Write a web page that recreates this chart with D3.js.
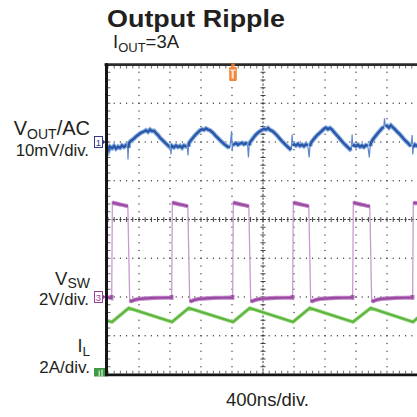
<!DOCTYPE html>
<html><head><meta charset="utf-8">
<script src="https://cdn.jsdelivr.net/npm/d3@7"></script>
<style>html,body{margin:0;padding:0;background:#fff;} svg{display:block;}</style>
</head><body>
<svg id="c" width="417" height="417"></svg>
<script>
// ---------------- DATA ----------------
const titleText = "Output Ripple";
const subtitleParts = ["I", "OUT", "=3A"];
const voutLabelParts = ["V", "OUT", "/AC"];
const voutScaleLabel = "10mV/div.";
const vswLabelParts = ["V", "SW"];
const vswScaleLabel = "2V/div.";
const ilLabelParts = ["I", "L"];
const ilScaleLabel = "2A/div.";
const timebaseLabel = "400ns/div.";
const channelIds = ["1", "3", "4"];
const triggerTimeNs = 1613;

// Channel 1: V_OUT AC ripple [time ns, mV]
const voutTrace = [
 [0,-1.0],[13,-1.9],[26,-1.2],[52,-1.6],[78,-1.0],[103,-1.7],[129,-1.2],[155,-1.5],[180,-0.9],[206,-1.3],[232,-0.8],[245,-1.1],
 [252,-1.3],[258,-4.5],[265,-1.5],
 [271,-0.3],[290,0.2],[310,0.5],[335,0.9],[361,1.4],[387,1.8],[413,2.2],[438,2.5],
 [464,2.7],[490,3.0],[516,2.6],[542,3.2],[568,2.8],[593,2.9],
 [619,2.3],[645,1.8],[671,1.1],[696,0.6],[722,0.1],[748,-0.4],[774,-0.9],[795,-1.3],
 [806,-1.2],[813,-3.2],[820,-1.6],
 [826,-1.0],[851,-1.4],[877,-0.9],[903,-1.3],[929,-1.0],[955,-1.5],[980,-0.9],[1006,-1.1],[1022,-0.8],
 [1032,-3.5],[1039,-1.2],
 [1045,-0.3],[1065,0.3],[1084,0.8],[1110,1.4],[1135,2.0],[1161,2.5],[1187,3.0],
 [1212,3.3],[1238,3.1],[1264,3.5],[1290,3.2],[1316,3.0],
 [1342,2.6],[1367,2.1],[1393,1.5],[1419,1.0],[1445,0.5],[1470,0.0],[1496,-0.5],[1522,-0.9],[1548,-1.3],[1574,-1.2],
 [1595,2.8],[1603,-2.4],[1610,-0.7],
 [1625,-0.6],[1651,-0.3],[1677,-0.7],[1703,-0.4],[1729,-0.2],[1754,-0.6],[1780,-0.3],[1800,-0.5],
 [1812,-4.0],[1822,-0.9],
 [1832,-0.1],[1858,0.6],[1883,1.3],[1909,1.9],[1935,2.4],[1961,2.8],[1987,3.1],
 [2012,3.4],[2038,3.2],[2064,3.6],[2090,3.1],[2115,2.9],
 [2141,2.5],[2167,2.0],[2193,1.4],[2219,0.8],[2245,0.2],[2270,-0.3],[2296,-0.8],[2322,-1.3],[2348,-1.8],[2366,-1.5],
 [2376,1.9],[2384,-0.9],
 [2400,-0.6],[2425,-0.9],[2451,-0.5],[2477,-1.0],[2503,-0.7],[2528,-1.1],[2554,-0.6],[2578,-0.8],
 [2596,-4.0],[2606,-1.1],
 [2620,-0.2],[2645,0.5],[2670,1.1],[2700,1.8],[2735,2.4],[2761,2.9],
 [2787,3.4],[2812,3.7],[2838,3.3],[2864,3.6],[2890,3.2],
 [2915,2.6],[2941,2.0],[2967,1.4],[2993,0.8],[3019,0.2],[3044,-0.4],[3070,-0.9],[3096,-1.4],[3122,-1.9],[3140,-1.6],
 [3150,1.9],[3158,-1.1],
 [3173,-0.8],[3199,-1.1],[3225,-0.7],[3251,-1.2],[3277,-0.9],[3302,-1.3],[3328,-0.8],[3352,-1.0],
 [3372,-4.0],[3382,-1.1],
 [3395,-0.1],[3420,0.7],[3450,1.5],[3483,2.3],[3509,2.9],[3535,3.5],[3558,3.9],
 [3568,6.1],[3578,4.1],
 [3600,4.2],[3625,3.7],[3650,4.3],[3675,3.8],
 [3700,3.3],[3730,2.7],[3760,2.1],[3790,1.4],[3820,0.7],[3850,0.1],[3880,-0.5],[3908,-1.1],
 [3925,1.8],[3932,-3.2],[3942,-1.3],
 [3960,-0.7],[3986,-1.0],[4000,-0.8]
];

// Channel 3: V_SW switch node [time ns, V]
const vswTrace = [
 [0,-0.04],[20,-0.02],[44,-0.05],
 [48,0.1],[56,4.82],[72,4.86],[110,4.82],[150,4.78],[190,4.75],[230,4.71],[256,4.68],[280,-0.18],[300,-0.22],[340,-0.15],[400,-0.1],[500,-0.07],[600,-0.05],[700,-0.04],[800,-0.03],[820,-0.04],
 [822,0.1],[830,4.82],[846,4.86],[884,4.82],[924,4.78],[964,4.75],[1004,4.71],[1030,4.68],[1054,-0.18],[1074,-0.22],[1114,-0.15],[1174,-0.1],[1274,-0.07],[1374,-0.05],[1474,-0.04],[1574,-0.03],[1605,-0.04],
 [1609,0.1],[1617,4.82],[1633,4.86],[1671,4.82],[1711,4.78],[1751,4.75],[1791,4.71],[1817,4.68],[1841,-0.18],[1861,-0.22],[1901,-0.15],[1961,-0.1],[2061,-0.07],[2161,-0.05],[2261,-0.04],[2361,-0.03],[2379,-0.04],
 [2383,0.1],[2391,4.82],[2407,4.86],[2445,4.82],[2485,4.78],[2525,4.75],[2565,4.71],[2591,4.68],[2615,-0.18],[2635,-0.22],[2675,-0.15],[2735,-0.1],[2835,-0.07],[2935,-0.05],[3035,-0.04],[3135,-0.03],[3153,-0.04],
 [3157,0.1],[3165,4.82],[3181,4.86],[3219,4.82],[3259,4.78],[3299,4.75],[3339,4.71],[3378,4.68],[3402,-0.18],[3422,-0.22],[3462,-0.15],[3522,-0.1],[3622,-0.07],[3722,-0.05],[3822,-0.04],[3900,-0.03],[3927,-0.04],
 [3931,0.1],[3939,4.82],[3960,4.86],[4000,4.84]
];

// Channel 4: inductor current I_L [time ns, A]
const ilTrace = [
 [0,2.76],[52,2.71],[268,3.43],[826,2.71],[1042,3.43],[1613,2.71],[1829,3.43],[2387,2.71],[2603,3.43],[3161,2.71],[3390,3.43],[3935,2.71],[4000,2.94]
];

// ---------------- SCALES ----------------
const svg = d3.select("#c");
const FONT = "'Liberation Sans', Arial, Helvetica, sans-serif";
const TXT = "#231f20";
const x = d3.scaleLinear().domain([0, 4000]).range([108, 418]);
const xDiv = d3.scaleLinear().domain([0, 10]).range([108, 418]);
const yDiv = d3.scaleLinear().domain([-4, 4]).range([374.5, 64.5]);
const ch1Offset = 2, ch3Offset = -2, ch4Offset = -4;
const yVout = v => yDiv(ch1Offset + v / 10);
const yVsw = v => yDiv(ch3Offset + v / 2);
const yIl = v => yDiv(ch4Offset + v / 2);

// ---------------- GRID ----------------
const grid = svg.append("g");
const minorX = d3.range(0, 51).map(j => j * 0.2);
const minorY = d3.range(0, 41).map(j => -4 + j * 0.2);
[1,2,3,4,6,7,8,9].forEach(i => {
  minorY.forEach(v => grid.append("rect").attr("x", xDiv(i) - 0.6).attr("y", yDiv(v) - 0.6)
    .attr("width", 1.2).attr("height", 1.2).attr("fill", "#3a3a3a"));
});
[-3,-2,-1,1,2,3].forEach(k => {
  minorX.forEach(v => grid.append("rect").attr("x", xDiv(v) - 0.6).attr("y", yDiv(k) - 0.6)
    .attr("width", 1.2).attr("height", 1.2).attr("fill", "#3a3a3a"));
});
// center cross
grid.append("line").attr("x1", xDiv(5)).attr("x2", xDiv(5)).attr("y1", yDiv(4)).attr("y2", yDiv(-4))
  .attr("stroke", "#333").attr("stroke-width", 1).attr("stroke-dasharray", "2.2,1.6");
grid.append("line").attr("y1", yDiv(0)).attr("y2", yDiv(0)).attr("x1", xDiv(0)).attr("x2", xDiv(10))
  .attr("stroke", "#333").attr("stroke-width", 1).attr("stroke-dasharray", "2.2,1.6");
minorY.forEach(v => grid.append("line").attr("x1", xDiv(5) - 2.5).attr("x2", xDiv(5) + 2.5)
  .attr("y1", yDiv(v)).attr("y2", yDiv(v)).attr("stroke", "#333").attr("stroke-width", 0.9));
minorX.forEach(v => grid.append("line").attr("y1", yDiv(0) - 2.5).attr("y2", yDiv(0) + 2.5)
  .attr("x1", xDiv(v)).attr("x2", xDiv(v)).attr("stroke", "#333").attr("stroke-width", 0.9));
// border ticks
minorX.forEach(v => {
  grid.append("line").attr("x1", xDiv(v)).attr("x2", xDiv(v)).attr("y1", 66).attr("y2", 68.5)
    .attr("stroke", "#444").attr("stroke-width", 0.8);
  grid.append("line").attr("x1", xDiv(v)).attr("x2", xDiv(v)).attr("y1", 373.5).attr("y2", 370.8)
    .attr("stroke", "#444").attr("stroke-width", 0.8);
});
minorY.forEach(v => grid.append("line").attr("x1", 108).attr("x2", 110.5)
  .attr("y1", yDiv(v)).attr("y2", yDiv(v)).attr("stroke", "#444").attr("stroke-width", 0.8));

// ---------------- TRACES ----------------
svg.append("defs").append("clipPath").attr("id", "clip").append("rect")
  .attr("x", 108).attr("y", 64.5).attr("width", 310).attr("height", 310);
const tr = svg.append("g").attr("clip-path", "url(#clip)");

function segmentsOf(data, jump) {
  const segs = []; let cur = [data[0]];
  for (let i = 1; i < data.length; i++) {
    if (Math.abs(data[i][1] - data[i - 1][1]) > jump) { segs.push(cur); cur = [data[i]]; }
    else cur.push(data[i]);
  }
  segs.push(cur);
  return segs.filter(s => s.length > 1);
}

// I_L (green)
const lineIl = d3.line().x(d => x(d[0])).y(d => yIl(d[1]));
tr.append("path").attr("d", lineIl(ilTrace)).attr("fill", "none").attr("stroke", "#9ad67e").attr("stroke-width", 3.6);
tr.append("path").attr("d", lineIl(ilTrace)).attr("fill", "none").attr("stroke", "#5ab43e").attr("stroke-width", 2);

// V_SW (purple)
const lineSw = d3.line().x(d => x(d[0])).y(d => yVsw(d[1]));
tr.append("path").attr("d", lineSw(vswTrace)).attr("fill", "none").attr("stroke", "#c99ad0").attr("stroke-width", 1.3);
segmentsOf(vswTrace, 1).forEach(s => {
  tr.append("path").attr("d", lineSw(s)).attr("fill", "none").attr("stroke", "#c28ac8").attr("stroke-width", 4.2);
  tr.append("path").attr("d", lineSw(s)).attr("fill", "none").attr("stroke", "#9a4aa2").attr("stroke-width", 2.2);
});

// V_OUT (blue)
const lineVo = d3.line().x(d => x(d[0])).y(d => yVout(d[1]));
tr.append("path").attr("d", lineVo(voutTrace)).attr("fill", "none").attr("stroke", "#5f88cc").attr("stroke-width", 1.2);
segmentsOf(voutTrace, 1.5).forEach(s => {
  tr.append("path").attr("d", lineVo(s)).attr("fill", "none").attr("stroke", "#8fb0e0").attr("stroke-width", 4.6);
  tr.append("path").attr("d", lineVo(s)).attr("fill", "none").attr("stroke", "#2a58a8").attr("stroke-width", 2.4);
});

// ---------------- BORDER ----------------
svg.append("line").attr("x1", 104.5).attr("x2", 417).attr("y1", 64.7).attr("y2", 64.7).attr("stroke", "#2b2b2b").attr("stroke-width", 2.8);
svg.append("line").attr("x1", 104.5).attr("x2", 417).attr("y1", 374.8).attr("y2", 374.8).attr("stroke", "#151515").attr("stroke-width", 2.8);
svg.append("line").attr("x1", 106.5).attr("x2", 106.5).attr("y1", 63.3).attr("y2", 376.2).attr("stroke", "#151515").attr("stroke-width", 3);

// ---------------- MARKERS ----------------
function chMarker(yc, color, label) {
  const g = svg.append("g");
  g.append("path").attr("d", `M102,${yc - 3} L105.5,${yc} L102,${yc + 3} Z`).attr("fill", color);
  g.append("rect").attr("x", 94.5).attr("y", yc - 5.5).attr("width", 8).attr("height", 11)
    .attr("fill", "#fff").attr("stroke", color).attr("stroke-width", 1);
  g.append("text").attr("x", 98.5).attr("y", yc + 3.5).attr("text-anchor", "middle")
    .attr("font-family", FONT).attr("font-size", 9.5).attr("fill", color).text(label);
}
chMarker(yDiv(ch1Offset), "#34388a", channelIds[0]);
chMarker(yDiv(ch3Offset), "#9a3c9c", channelIds[1]);
// channel 4 marker (green, filled)
const y4 = yDiv(ch4Offset);
svg.append("rect").attr("x", 94).attr("y", y4 - 6.5).attr("width", 11).attr("height", 8.5).attr("fill", "#3f9a45");
svg.append("rect").attr("x", 98.6).attr("y", y4 - 4).attr("width", 1.2).attr("height", 6).attr("fill", "#d8efd8");
svg.append("rect").attr("x", 101.4).attr("y", y4 - 5).attr("width", 1.2).attr("height", 7).attr("fill", "#d8efd8");

// trigger marker
const xt = x(triggerTimeNs);
svg.append("rect").attr("x", xt - 1.8).attr("y", 63.5).attr("width", 3.6).attr("height", 3).attr("fill", "#e0702a");
svg.append("rect").attr("x", xt - 3.8).attr("y", 67).attr("width", 7.6).attr("height", 14).attr("rx", 1.2).attr("fill", "#f0873a");
svg.append("rect").attr("x", xt - 1.4).attr("y", 70).attr("width", 2.2).attr("height", 8.5).attr("fill", "#fde2cc");
svg.append("rect").attr("x", xt - 2.6).attr("y", 69.5).attr("width", 5.2).attr("height", 1.4).attr("fill", "#fde2cc");

// ---------------- TEXT ----------------
svg.append("text").attr("x", 107).attr("y", 27).attr("font-family", FONT).attr("font-weight", "bold")
  .attr("font-size", 24.5).attr("fill", TXT).attr("textLength", 178).attr("lengthAdjust", "spacingAndGlyphs").text(titleText);

function subText(xp, yp, parts, size, subSize, anchor, dy) {
  const t = svg.append("text").attr("x", xp).attr("y", yp).attr("font-family", FONT)
    .attr("font-size", size).attr("fill", TXT).attr("text-anchor", anchor);
  t.append("tspan").text(parts[0]);
  t.append("tspan").attr("font-size", subSize).attr("dy", dy).text(parts[1]);
  if (parts[2]) t.append("tspan").attr("dy", -dy).text(parts[2]);
  return t;
}
subText(113, 48, subtitleParts, 18.5, 13, "start", 4);
subText(90, 135, voutLabelParts, 20, 14, "end", 3.5);
subText(90, 284.5, vswLabelParts, 18.5, 14, "end", 3);
subText(90, 351.5, ilLabelParts, 18, 13.5, "end", 4);

function plain(xp, yp, s, size, anchor) {
  svg.append("text").attr("x", xp).attr("y", yp).attr("font-family", FONT).attr("font-size", size)
    .attr("fill", TXT).attr("text-anchor", anchor).text(s);
}
plain(89, 156, voutScaleLabel, 16.8, "end");
plain(89, 305, vswScaleLabel, 16.8, "end");
plain(90, 372.5, ilScaleLabel, 17, "end");
plain(226, 406, timebaseLabel, 18.5, "start");
</script>
</body></html>
